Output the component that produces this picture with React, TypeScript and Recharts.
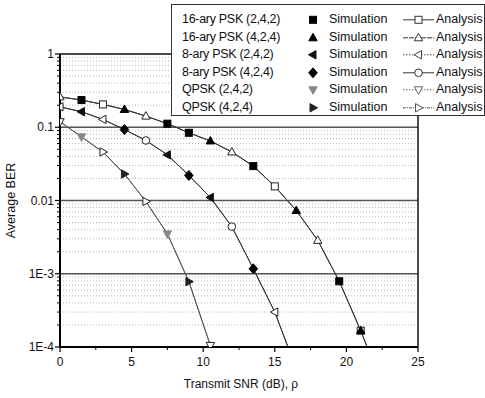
import React from 'react';
import { ComposedChart, Line, XAxis, YAxis, CartesianGrid, ReferenceLine, Label } from 'recharts';

// SNR points (dB), markers every 1.5 dB
const snrDb = [0, 1.5, 3, 4.5, 6, 7.5, 9, 10.5, 12, 13.5, 15, 16.5, 18, 19.5, 21, 22.5];

// average BER ((2,4,2) and (4,2,4) coincide)
const berPsk16 = [0.26, 0.235, 0.205, 0.175, 0.142, 0.112, 0.084, 0.065, 0.046, 0.0295, 0.0156, 0.0073, 0.00286, 0.00079, 0.000167, 0.00003];
const berPsk8 = [0.19, 0.163, 0.128, 0.093, 0.066, 0.042, 0.022, 0.011, 0.0044, 0.00117, 0.0003, 0.00005];
const berQpsk = [0.119, 0.074, 0.046, 0.023, 0.0097, 0.0035, 0.00078, 0.000105, 0.00001];

const xTicks = [0, 2.5, 5, 7.5, 10, 12.5, 15, 17.5, 20, 22.5, 25];
const xLabeled = [0, 5, 10, 15, 20, 25];
const yMajor = [0.0001, 0.001, 0.01, 0.1, 1];
const yMajorLabels = ['1E-4', '1E-3', '0.01', '0.1', '1'];
const yMinorSteps = [2, 3, 4, 5, 6, 7, 8, 9];
const yGridMajor = [0.1, 0.01, 0.001];

const FONT = '"Liberation Sans", Arial, sans-serif';

type Shape = 'square' | 'triangle' | 'down' | 'left' | 'right' | 'diamond' | 'circle';

interface SeriesDef {
  name: string;
  ber: number[];
  simShape: Shape;
  anaShape: Shape;
  simFill: string;
  simIdx: number[]; // indices where a simulation marker shows
  anaIdx: number[]; // indices where an analysis marker shows
  dash?: string; // legend line style
  color: string;
}

const seriesList: SeriesDef[] = [
  { name: '16-ary PSK (2,4,2)', ber: berPsk16, simShape: 'square', anaShape: 'square', simFill: '#000', simIdx: [1, 5, 6, 9, 13], anaIdx: [2, 10, 14], color: '#333' },
  { name: '16-ary PSK (4,2,4)', ber: berPsk16, simShape: 'triangle', anaShape: 'triangle', simFill: '#000', simIdx: [3, 7, 11, 14], anaIdx: [0, 4, 8, 12], dash: '5 1', color: '#333' },
  { name: '8-ary PSK (2,4,2)', ber: berPsk8, simShape: 'left', anaShape: 'left', simFill: '#111', simIdx: [1, 5, 7], anaIdx: [0, 2, 10], dash: '1.5 1.5', color: '#444' },
  { name: '8-ary PSK (4,2,4)', ber: berPsk8, simShape: 'diamond', anaShape: 'circle', simFill: '#000', simIdx: [3, 6, 9], anaIdx: [4, 8], color: '#333' },
  { name: 'QPSK (2,4,2)', ber: berQpsk, simShape: 'down', anaShape: 'down', simFill: '#888', simIdx: [1, 5], anaIdx: [0, 7], dash: '1.5 1.5', color: '#666' },
  { name: 'QPSK (4,2,4)', ber: berQpsk, simShape: 'right', anaShape: 'right', simFill: '#222', simIdx: [3, 6], anaIdx: [2, 4], dash: '3 1 1 1', color: '#555' },
];

const chartData = snrDb.map((x, i) => {
  const row: any = { snr: x };
  seriesList.forEach((s, k) => {
    const v = s.ber[i] ?? null;
    row[`a${k}`] = v;
    row[`s${k}`] = s.simIdx.includes(i) ? v : null;
    row[`m${k}`] = s.anaIdx.includes(i) ? v : null;
  });
  return row;
});

const yTicks: number[] = [];
yMajor.forEach((d, i) => {
  yTicks.push(d);
  if (i < yMajor.length - 1) yMinorSteps.forEach((m) => yTicks.push(d * m));
});

function Marker({ shape, cx, cy, fill, stroke }: { shape: Shape; cx: number; cy: number; fill: string; stroke: string }) {
  const common = { fill, stroke, strokeWidth: 1 };
  switch (shape) {
    case 'square':
      return <rect x={cx - 3.5} y={cy - 3.5} width={7} height={7} {...common} />;
    case 'triangle':
      return <polygon points={`${cx},${cy - 4.5} ${cx + 4.2},${cy + 3} ${cx - 4.2},${cy + 3}`} {...common} />;
    case 'down':
      return <polygon points={`${cx},${cy + 4.5} ${cx + 4.2},${cy - 3} ${cx - 4.2},${cy - 3}`} {...common} />;
    case 'left':
      return <polygon points={`${cx - 4.5},${cy} ${cx + 3},${cy - 4.2} ${cx + 3},${cy + 4.2}`} {...common} />;
    case 'right':
      return <polygon points={`${cx + 4.5},${cy} ${cx - 3},${cy - 4.2} ${cx - 3},${cy + 4.2}`} {...common} />;
    case 'diamond':
      return <polygon points={`${cx},${cy - 5} ${cx + 4.3},${cy} ${cx},${cy + 5} ${cx - 4.3},${cy}`} {...common} />;
    default:
      return <circle cx={cx} cy={cy} r={3.8} {...common} />;
  }
}

const makeDot = (shape: Shape, fill: string, stroke: string) => (p: any) => {
  const k = `${p.dataKey}-${p.index}`;
  if (p.value == null || p.cy == null || Number.isNaN(p.cy)) return <g key={k} />;
  return (
    <g key={k}>
      <Marker shape={shape} cx={p.cx} cy={p.cy} fill={fill} stroke={stroke} />
    </g>
  );
};

function YTick({ x, y, payload }: any) {
  const idx = yMajor.indexOf(payload.value);
  if (idx < 0) {
    return <line x1={x + 3} x2={x + 6} y1={y} y2={y} stroke="#000" strokeWidth={1} />;
  }
  return (
    <g>
      <line x1={x + 1} x2={x + 6} y1={y} y2={y} stroke="#000" strokeWidth={1.2} />
      <text x={x} y={y} dy={4} textAnchor="end" fontSize={12} fontFamily={FONT} fill="#111">
        {yMajorLabels[idx]}
      </text>
    </g>
  );
}

function XTick({ x, y, payload }: any) {
  const v = payload.value;
  if (!xLabeled.includes(v)) {
    return <line x1={x} x2={x} y1={y - 7} y2={y - 4} stroke="#000" strokeWidth={1} />;
  }
  return (
    <g>
      <line x1={x} x2={x} y1={y - 7} y2={y - 2} stroke="#000" strokeWidth={1.2} />
      <text x={x} y={y} dy={12} textAnchor="middle" fontSize={12} fontFamily={FONT} fill="#111">
        {v}
      </text>
    </g>
  );
}

function LegendBox() {
  const rowTop = 6;
  const rowH = 17.6;
  return (
    <div
      style={{
        position: 'absolute',
        left: 171,
        top: 4,
        width: 314,
        height: 112,
        boxSizing: 'border-box',
        border: '1px solid #333',
        background: '#fff',
        fontFamily: FONT,
        fontSize: 12.5,
        color: '#111',
      }}
    >
      {seriesList.map((s, i) => {
        const top = rowTop + i * rowH;
        return (
          <div key={s.name} style={{ position: 'absolute', left: 0, top, height: rowH, width: '100%' }}>
            <span style={{ position: 'absolute', left: 10, top: 1, whiteSpace: 'nowrap', letterSpacing: -0.3 }}>{s.name}</span>
            <svg style={{ position: 'absolute', left: 133, top: 0 }} width={16} height={rowH}>
              <Marker shape={s.simShape} cx={8} cy={rowH / 2} fill={s.simFill} stroke={s.simFill} />
            </svg>
            <span style={{ position: 'absolute', left: 157, top: 1, whiteSpace: 'nowrap' }}>Simulation</span>
            <svg style={{ position: 'absolute', left: 231, top: 0 }} width={31} height={rowH}>
              <line x1={0} x2={31} y1={rowH / 2} y2={rowH / 2} stroke={s.color} strokeWidth={1} strokeDasharray={s.dash} />
              <Marker shape={s.anaShape} cx={15.5} cy={rowH / 2} fill="#fff" stroke={s.color} />
            </svg>
            <span style={{ position: 'absolute', left: 264, top: 1, whiteSpace: 'nowrap' }}>Analysis</span>
          </div>
        );
      })}
    </div>
  );
}

export default function App() {
  return (
    <div style={{ position: 'absolute', left: 0, top: 0, width: 485, height: 398, background: '#fff' }}>
      <ComposedChart
        width={485}
        height={398}
        data={chartData}
        margin={{ top: 54, right: 67, bottom: 6, left: 10 }}
      >
        <CartesianGrid
          vertical={false}
          stroke="#b5b5b5"
          strokeDasharray="1 2"
        />
        <XAxis
          dataKey="snr"
          type="number"
          domain={[0, 25]}
          ticks={xTicks}
          interval={0}
          allowDataOverflow
          height={45}
          tickSize={5}
          tickMargin={2}
          tickLine={false}
          tick={<XTick />}
          axisLine={{ stroke: '#000', strokeWidth: 2 }}
        >
          <Label
            content={(p: any) => {
              const vb = p.viewBox;
              return (
                <text x={vb.x + vb.width / 2 + 2} y={388} textAnchor="middle" fontSize={12} fontFamily={FONT} fill="#111">
                  Transmit SNR (dB), ρ
                </text>
              );
            }}
          />
        </XAxis>
        <YAxis
          type="number"
          scale="log"
          domain={[0.0001, 1]}
          ticks={yTicks}
          interval={0}
          allowDataOverflow
          width={50}
          tickSize={5}
          tickMargin={1}
          tickLine={false}
          tick={<YTick />}
          axisLine={{ stroke: '#000', strokeWidth: 2 }}
        >
          <Label
            content={(p: any) => {
              const vb = p.viewBox;
              const cy = vb.y + vb.height / 2;
              return (
                <text x={15} y={cy} transform={`rotate(-90 15 ${cy})`} textAnchor="middle" fontSize={12.5} fontFamily={FONT} fill="#111">
                  Average BER
                </text>
              );
            }}
          />
        </YAxis>
        {yGridMajor.map((v) => (
          <ReferenceLine key={`g${v}`} y={v} stroke="#555" strokeWidth={1.4} />
        ))}
        <ReferenceLine y={1} stroke="#111" strokeWidth={1.5} />
        <ReferenceLine x={25} stroke="#111" strokeWidth={1.5} />
        {seriesList.map((s, k) => (
          <Line
            key={`a${k}`}
            dataKey={`a${k}`}
            type="linear"
            stroke={s.color}
            strokeWidth={1}
            dot={false}
            activeDot={false}
            connectNulls={false}
            isAnimationActive={false}
          />
        ))}
        {seriesList.map((s, k) => (
          <Line
            key={`m${k}`}
            dataKey={`m${k}`}
            stroke="none"
            dot={makeDot(s.anaShape, '#fff', '#222')}
            activeDot={false}
            isAnimationActive={false}
          />
        ))}
        {seriesList.map((s, k) => (
          <Line
            key={`s${k}`}
            dataKey={`s${k}`}
            stroke="none"
            dot={makeDot(s.simShape, s.simFill, s.simFill)}
            activeDot={false}
            isAnimationActive={false}
          />
        ))}
      </ComposedChart>
      <LegendBox />
    </div>
  );
}
